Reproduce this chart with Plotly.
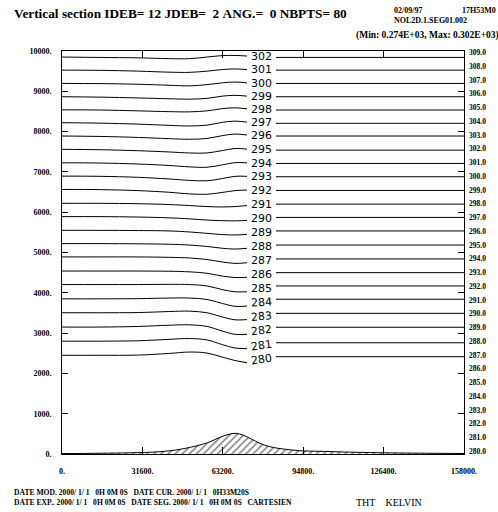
import math
import plotly.graph_objects as go

# ---------------- data ----------------
theta_levels = list(range(280, 303))
contour_x = [0, 15000, 30000, 42000, 50000, 57000, 63000, 68000, 72700, 84100, 158000]
gap_index = 9  # segments: [0:9] left of label, [9:] right of label

h280 = [2450, 2450, 2455, 2495, 2530, 2505, 2405, 2320, 2265, 2415, 2415]
h281 = [2800, 2800, 2810, 2845, 2865, 2830, 2715, 2630, 2615, 2760, 2760]
h282 = [3150, 3150, 3165, 3195, 3205, 3165, 3050, 2970, 2970, 3145, 3145]
h283 = [3505, 3505, 3510, 3535, 3545, 3505, 3400, 3330, 3335, 3490, 3490]
h284 = [3850, 3850, 3855, 3870, 3870, 3835, 3735, 3665, 3670, 3840, 3840]
h285 = [4205, 4205, 4205, 4210, 4205, 4170, 4080, 4025, 4025, 4170, 4170]
h286 = [4540, 4540, 4540, 4535, 4520, 4485, 4415, 4380, 4385, 4500, 4500]
h287 = [4890, 4890, 4890, 4880, 4865, 4825, 4765, 4730, 4745, 4840, 4840]
h288 = [5220, 5220, 5215, 5205, 5185, 5150, 5105, 5085, 5105, 5185, 5185]
h289 = [5550, 5550, 5545, 5535, 5510, 5475, 5445, 5435, 5450, 5535, 5535]
h290 = [5890, 5890, 5880, 5860, 5835, 5805, 5790, 5785, 5795, 5870, 5870]
h291 = [6220, 6220, 6210, 6190, 6165, 6140, 6130, 6140, 6165, 6200, 6200]
h292 = [6565, 6560, 6535, 6495, 6455, 6445, 6490, 6535, 6550, 6540, 6540]
h293 = [6895, 6890, 6865, 6825, 6790, 6780, 6835, 6890, 6890, 6880, 6880]
h294 = [7225, 7220, 7195, 7160, 7125, 7115, 7175, 7230, 7225, 7210, 7210]
h295 = [7560, 7550, 7525, 7495, 7470, 7470, 7530, 7580, 7565, 7540, 7540]
h296 = [7890, 7880, 7855, 7825, 7810, 7830, 7900, 7940, 7915, 7890, 7890]
h297 = [8220, 8210, 8185, 8155, 8140, 8160, 8230, 8260, 8235, 8205, 8205]
h298 = [8540, 8535, 8515, 8495, 8490, 8515, 8570, 8590, 8565, 8535, 8535]
h299 = [8865, 8855, 8835, 8815, 8805, 8825, 8880, 8900, 8880, 8865, 8865]
h300 = [9195, 9190, 9175, 9150, 9135, 9165, 9210, 9230, 9210, 9195, 9195]
h301 = [9525, 9520, 9500, 9475, 9470, 9500, 9540, 9555, 9540, 9525, 9525]
h302 = [9850, 9840, 9830, 9810, 9810, 9850, 9885, 9890, 9875, 9840, 9840]

contour_heights = [h280, h281, h282, h283, h284, h285, h286, h287, h288, h289, h290, h291,
                   h292, h293, h294, h295, h296, h297, h298, h299, h300, h301, h302]

terrain_x = [0, 14900, 26700, 38500, 46400, 54200, 58200, 62100, 66000, 68400, 71100,
             73900, 77800, 81700, 86900, 93500, 101400, 117100, 132800, 158000]
terrain_h = [10, 18, 30, 57, 116, 223, 305, 414, 496, 513, 471, 389, 265, 181, 124, 82,
             67, 40, 25, 12]

x_ticks = [0, 31600, 63200, 94800, 126400, 158000]
x_tick_labels = ["0.", "31600.", "63200.", "94800.", "126400.", "158000."]
y_ticks = list(range(0, 10001, 1000))
y_tick_labels = [f"{v}." for v in y_ticks]
scale_ticks = list(range(280, 310))
scale_tick_labels = [f"{v:.1f}" for v in scale_ticks]

title_text = "Vertical section IDEB= 12 JDEB=  2 ANG.=  0 NBPTS= 80"
date_text = "02/09/97"
time_text = "17H53M0"
file_text = "NOL2D.1.SEG01.002"
minmax_text = "(Min: 0.274E+03, Max: 0.302E+03)"
foot1 = "DATE MOD. 2000/ 1/ 1   0H 0M 0S   DATE CUR. 2000/ 1/ 1   0H33M20S"
foot2 = "DATE EXP.. 2000/ 1/ 1   0H 0M 0S   DATE SEG. 2000/ 1/ 1   0H 0M 0S   CARTESIEN"
field_text = "THT    KELVIN"

# ---------------- figure ----------------
W, H = 498, 512
L, R, T, B = 62, 34, 51, 58
PW, PH = W - L - R, H - T - B


def px(xp):
    return (xp - L) / PW


def py(yp):
    return (H - B - yp) / PH


def keep_spaces(s):
    return s.replace(" ", "\u00a0")


SERIF = "Liberation Serif"
fig = go.Figure()

# terrain
fig.add_trace(go.Scatter(
    x=terrain_x, y=terrain_h, mode="lines", line=dict(color="black", width=1, shape="spline"),
    fill="tozeroy", fillcolor="white",
    fillpattern=dict(shape="/", fgcolor="black", bgcolor="white", size=5, solidity=0.3),
    hoverinfo="skip", showlegend=False))

label_angles = {280: -9, 281: -8, 282: -7, 283: -5, 284: -3}

for lev, hs in zip(theta_levels, contour_heights):
    fig.add_trace(go.Scatter(
        x=contour_x[:gap_index], y=hs[:gap_index], mode="lines",
        line=dict(color="black", width=1, shape="spline", smoothing=1.0),
        hoverinfo="skip", showlegend=False))
    fig.add_trace(go.Scatter(
        x=contour_x[gap_index:], y=hs[gap_index:], mode="lines",
        line=dict(color="black", width=1),
        hoverinfo="skip", showlegend=False))
    lx = (contour_x[gap_index - 1] + contour_x[gap_index]) / 2
    ly = (hs[gap_index - 1] + hs[gap_index]) / 2
    fig.add_annotation(x=lx, y=ly, text=str(lev), showarrow=False,
                       textangle=label_angles.get(lev, 0),
                       font=dict(family="DejaVu Sans", size=11, color="black"))

# invisible trace so the right-hand scale axis is drawn
fig.add_trace(go.Scatter(x=[0], y=[280], yaxis="y2", mode="markers",
                         marker=dict(opacity=0), hoverinfo="skip", showlegend=False))

tickfont = dict(family=SERIF, size=8, color="black", weight="bold")

fig.update_layout(
    width=W, height=H, margin=dict(l=L, r=R, t=T, b=B),
    paper_bgcolor="white", plot_bgcolor="white", showlegend=False,
    xaxis=dict(range=[0, 158000], tickvals=x_ticks, ticktext=x_tick_labels,
               ticks="inside", ticklen=7, tickcolor="black", tickwidth=1,
               showline=True, linecolor="black", linewidth=1, mirror="ticks",
               showgrid=False, zeroline=False, tickfont=tickfont, ticklabelstandoff=9),
    yaxis=dict(range=[0, 10000], tickvals=y_ticks, ticktext=y_tick_labels,
               ticks="inside", ticklen=6, tickcolor="black", tickwidth=1,
               showline=True, linecolor="black", linewidth=1, mirror="ticks",
               showgrid=False, zeroline=False, tickfont=tickfont, ticklabelstandoff=8),
    yaxis2=dict(overlaying="y", side="right", range=[279.8, 309.1],
                tickvals=scale_ticks, ticktext=scale_tick_labels, ticks="",
                showline=False, showgrid=False, zeroline=False,
                tickfont=dict(family=SERIF, size=7.5, color="black", weight="bold"),
                ticklabelstandoff=4),
)


def note(text, xp, yp, size, bold=True, anchor="left"):
    fig.add_annotation(xref="paper", yref="paper", x=px(xp), y=py(yp), text=keep_spaces(text),
                       showarrow=False, xanchor=anchor, yanchor="middle",
                       font=dict(family=SERIF, size=size, color="black",
                                 weight="bold" if bold else "normal"))


note(title_text, 12, 13, 13.3)
note(date_text, 392, 11, 8)
note(time_text, 460, 11, 8)
note(file_text, 392, 21, 8)
note(minmax_text, 354, 35, 9.5)
note(foot1, 12, 492, 7.6)
note(foot2, 12, 502.5, 7.6)
note(field_text, 354, 502.5, 10, bold=False)

fig.write_html("out.html", config={"displayModeBar": False},
               post_script="document.body.style.margin='0';document.body.style.overflow='hidden';")
